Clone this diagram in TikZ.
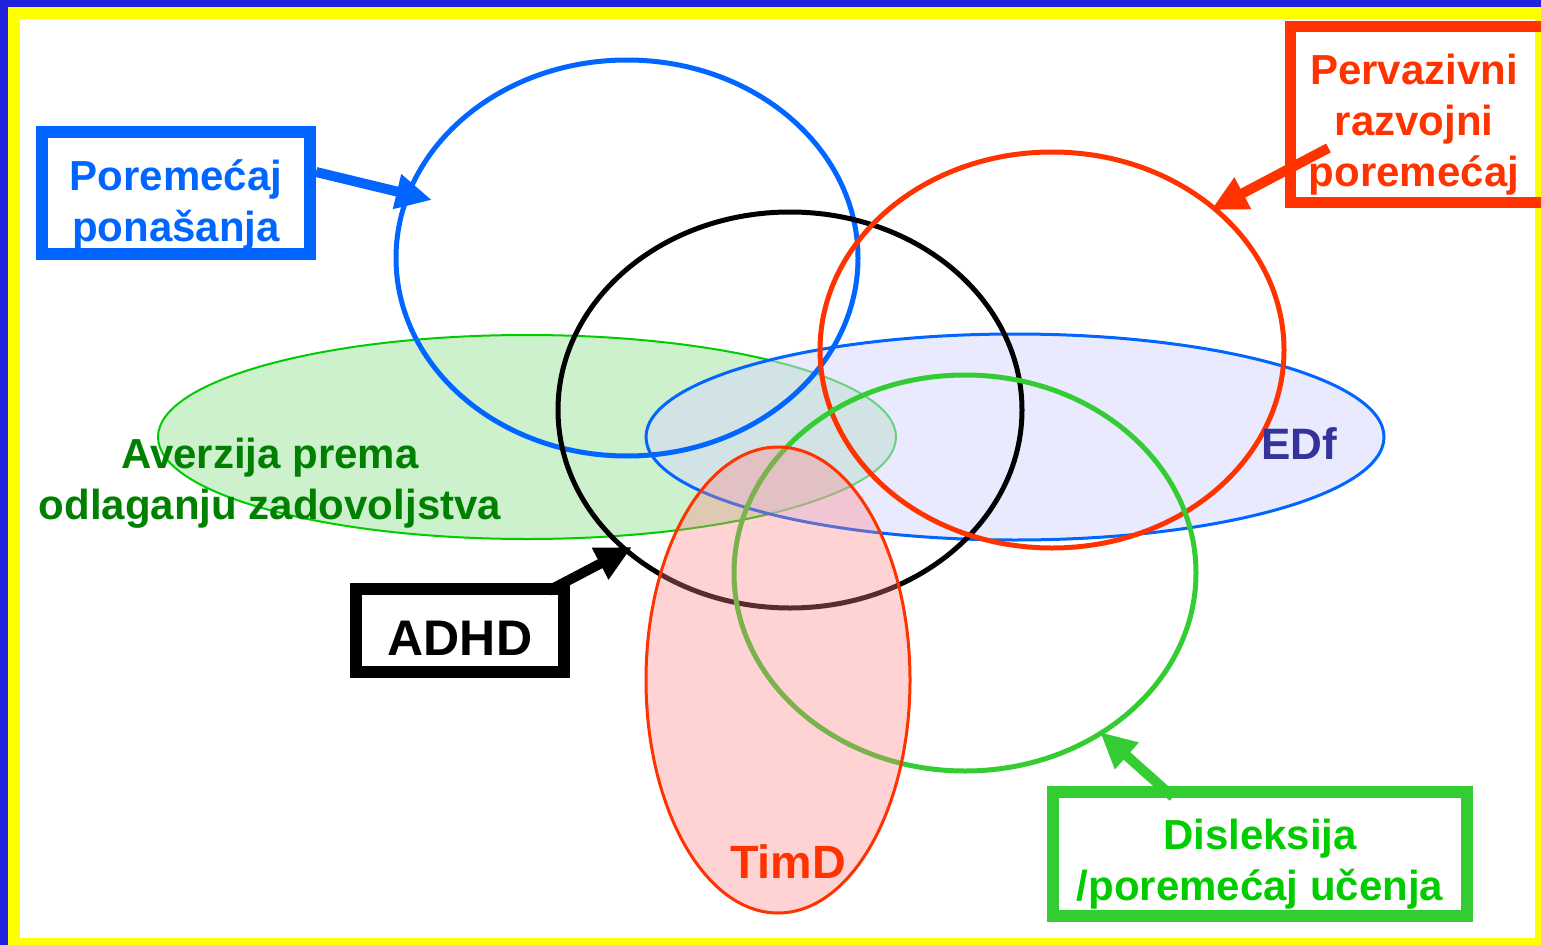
\documentclass[tikz,border=0pt]{standalone}
\usepackage{fontspec}
\setmainfont{Liberation Sans}
\usetikzlibrary{arrows.meta,calc}

\definecolor{frameblue}{RGB}{34,34,221}
\definecolor{frameyellow}{RGB}{255,255,0}
\definecolor{behblue}{RGB}{0,102,255}
\definecolor{pddred}{RGB}{255,51,0}
\definecolor{ldgreen}{RGB}{51,204,51}
\definecolor{ldtext}{RGB}{0,204,0}
\definecolor{avtext}{RGB}{0,128,0}
\definecolor{avline}{RGB}{0,204,0}
\definecolor{avfill}{RGB}{205,240,205}
\definecolor{edftext}{RGB}{51,51,153}
\definecolor{edffill}{RGB}{215,215,255}
\definecolor{timdfill}{RGB}{255,130,130}

% invisible strut that pushes a box text down
\newcommand{\droptext}[1]{\rule{0pt}{#1}}

\tikzset{every picture/.style={line width=0.75pt}}
\tikzset{
  lbltext/.style={align=center, inner sep=0pt, font=\bfseries\fontsize{31.5}{38.25}\selectfont},
  lblbox/.style={lbltext, draw, line width=9pt},
  ring/.style={line width=3.75pt},
  fatarrow/.style={line width=7.5pt, -{Triangle[length=27pt,width=25pt]}},
}

\begin{document}
\begin{tikzpicture}[x=0.75pt,y=0.75pt,yscale=-1,xscale=1]
\clip (0,0) rectangle (1541,945);

%Frame
\fill[frameblue] (0,0) rectangle (1541,945);
\fill[frameyellow] (8,7) rectangle (1541,945);
\fill[white] (20,19) rectangle (1535,938);

%Shape: Ellipse [aversion]
\draw[avline, line width=1.5pt, fill=avfill] (527,437) ellipse [x radius=369, y radius=102];
%Shape: Ellipse [EDf]
\draw[behblue, line width=2.25pt, fill=edffill, fill opacity=0.5] (1015,437) ellipse [x radius=369, y radius=103];

%Shape: Ellipse [behaviour]
\draw[ring, behblue] (627,258) ellipse [x radius=231, y radius=198];
%Shape: Ellipse [ADHD]
\draw[ring, black] (790,410) ellipse [x radius=232, y radius=198];
%Shape: Ellipse [pervasive]
\draw[ring, pddred] (1052,350) ellipse [x radius=232, y radius=198];
%Shape: Ellipse [learning]
\draw[ring, ldgreen] (965,573) ellipse [x radius=231, y radius=198];

%Shape: Ellipse [TimD]
\draw[pddred, line width=2.25pt, fill=timdfill, fill opacity=0.35] (778,680) ellipse [x radius=132, y radius=233];

% Text Node
\node[lbltext, text=avtext] (aver) at (270,483) {Averzija prema\\odlaganju zadovoljstva};
% Text Node
\node[lbltext, text=edftext, font=\bfseries\fontsize{33}{40}\selectfont] (edf) at (1299,444) {EDf};
% Text Node
\node[lbltext, text=pddred, font=\bfseries\fontsize{35}{42}\selectfont] (timd) at (788,862) {TimD};

%Boxes
\node[lblbox, behblue, minimum width=201pt, minimum height=91.5pt] (beh) at (176,193) {\droptext{40.5pt}Poremećaj\\ponašanja};
\node[lblbox, black, minimum width=156pt, minimum height=62.25pt, font=\bfseries\fontsize{37.5}{45}\selectfont] (adhd) at (460,630.5) {\droptext{37.5pt}ADHD};
\node[lblbox, ldgreen, text=ldtext, minimum width=310.5pt, minimum height=93pt] (ld) at (1260,854) {\droptext{38.5pt}Disleksija\\/poremećaj učenja};
\draw[pddred, line width=8.25pt] (1290,27) rectangle (1660,202);
\node[lbltext, text=pddred] (pdd) at (1414,125) {Pervazivni\\razvojni\\poremećaj};

%Arrows
\coordinate (behtip) at (432,200);
\coordinate (adhdtip) at (632,547);
\coordinate (pddtip) at (1211,210);
\coordinate (ldtip) at (1100,732);
\draw[fatarrow, behblue] ($(beh.east)+(0,-21)$) -- (behtip);
\draw[fatarrow, black] ($(adhd.north east)+(-22,8)$) -- (adhdtip);
\draw[fatarrow, pddred] ($(pdd.west)+(20,23)$) -- (pddtip);
\draw[fatarrow, ldgreen] ($(ld.north)+(-87,11)$) -- (ldtip);

\end{tikzpicture}
\end{document}
